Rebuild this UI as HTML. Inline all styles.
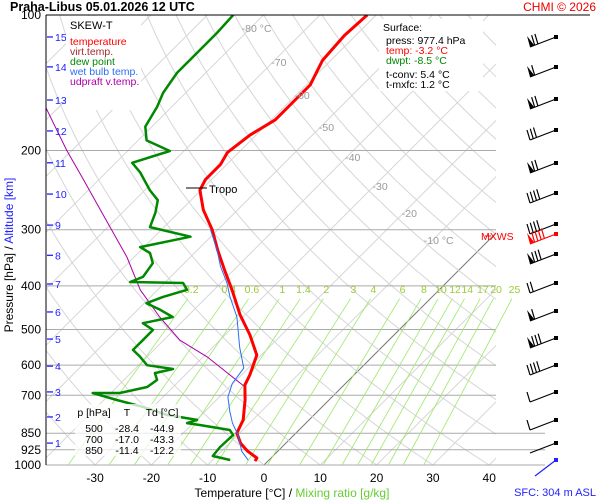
<!DOCTYPE html>
<html><head><meta charset="utf-8"><style>
html,body{margin:0;padding:0;background:#fff}
svg{display:block;font-family:"Liberation Sans",sans-serif}
</style></head><body>
<svg id="c" width="600" height="500" viewBox="0 0 600 500" xmlns="http://www.w3.org/2000/svg">
<defs><clipPath id="pc"><rect x="46" y="15" width="450" height="450"/></clipPath></defs>
<g id="grid" clip-path="url(#pc)"></g>
<g id="plines"></g>
<g id="mix"></g>
<g id="series" clip-path="url(#pc)"></g>
<g id="labels"></g>
<g id="barbs"></g>
<line x1="46" y1="15" x2="590" y2="15" stroke="#000" stroke-width="1"/>
<line x1="46" y1="15" x2="46" y2="465" stroke="#000" stroke-width="1"/>
<text x="10" y="11" font-size="12.5" font-weight="bold">Praha-Libus    05.01.2026 12 UTC</text>
<text x="596" y="11" font-size="12" fill="#e00" text-anchor="end">CHMI © 2026</text>
<rect x="66" y="16" width="75" height="94" fill="#fff"/>
<g font-size="10.5">
<text x="70" y="29" font-size="11">SKEW-T</text>
<text x="70" y="45" fill="#f00">temperature</text>
<text x="70" y="55" fill="#a52a2a">virt.temp.</text>
<text x="70" y="65" fill="#080">dew point</text>
<text x="70" y="75" fill="#2a6ef5">wet bulb temp.</text>
<text x="70" y="85" fill="#a0a">udpraft v.temp.</text>
</g>
<rect x="379" y="19" width="104" height="72" fill="#fff"/>
<g font-size="10.5">
<text x="383" y="31">Surface:</text>
<text x="386" y="44">press: 977.4 hPa</text>
<text x="386" y="54" fill="#f00">temp: -3.2 °C</text>
<text x="386" y="64" fill="#080">dwpt: -8.5 °C</text>
<text x="386" y="78">t-conv: 5.4 °C</text>
<text x="386" y="88">t-mxfc: 1.2 °C</text>
</g>
<rect id="tbox" x="75" y="404" width="106" height="52" fill="#fff" fill-opacity="0.75"/>
<g font-size="10.5" text-anchor="middle">
<text x="94" y="416">p [hPa]</text>
<text x="127" y="416">T</text>
<text x="162" y="416">Td [°C]</text>
<text x="94" y="432">500</text><text x="127" y="432">-28.4</text><text x="162" y="432">-44.9</text>
<text x="94" y="443">700</text><text x="127" y="443">-17.0</text><text x="162" y="443">-43.3</text>
<text x="94" y="454">850</text><text x="127" y="454">-11.4</text><text x="162" y="454">-12.2</text>
</g>
<text transform="translate(13,255) rotate(-90)" font-size="12" text-anchor="middle"><tspan fill="#000">Pressure [hPa]</tspan><tspan fill="#000"> / </tspan><tspan fill="#22f">Altitude [km]</tspan></text>
<text x="292" y="497" font-size="12" text-anchor="middle"><tspan fill="#000">Temperature [°C]  /  </tspan><tspan fill="#6c3">Mixing ratio [g/kg]</tspan></text>
<text x="596" y="496" font-size="11" fill="#22f" text-anchor="end">SFC: 304 m ASL</text>
<line x1="186" y1="188" x2="207" y2="188" stroke="#000"/>
<text x="209" y="193" font-size="11">Tropo</text>
<text x="481" y="240" font-size="10.5" fill="#f00">MXWS</text>
<line x1="485" y1="236" x2="491" y2="236" stroke="#f00"/>
</svg>
<script>
const pressures=[100,200,300,400,500,600,700,850,925,1000];
const tempTicks=[-30,-20,-10,0,10,20,30,40];
const isoLabels=[-80,-70,-60,-50,-40,-30,-20,-10];
const mixRatios=[0.2,0.4,0.6,1,1.4,2,3,4,6,8,10,12,14,17,20,25];
const altKm=[1,2,3,4,5,6,7,8,9,10,11,12,13,14,15];
const altP=[894,782,688,603,525,457,396,342,293,250,213,181,154.5,130.4,111.9];
const tempP=[980,965,930,895,849,794,717,664,631,570,514,464,408,369,333,300,271,245,232,215,202,185,171,154.5,143,126,111,100];
const tempT=[-2.3,-2.5,-5.5,-8.0,-10.5,-11.7,-14.9,-17.6,-18.5,-20.8,-25.6,-30.9,-36.8,-41.6,-46.4,-51.0,-56.1,-60.2,-61.1,-61.1,-62.0,-61.1,-59.3,-59.3,-59.3,-61.5,-62.0,-61.6];
const dewP=[974.7,955,912,858,836,815,807,794,774,743,717,692,692,671,647,625,612,600,575,555,528,501,484,469,452,437,423,408,394,392,382,356,338,328,311,296,275,258,245,224,213,200.6,190,177,160,149,134.5,119.6,109.6,100];
const dewT=[-6.9,-10.7,-11.0,-10.8,-12.3,-18.5,-21.1,-19.9,-26.1,-31.8,-37.7,-43.2,-38.4,-34.6,-34.1,-35.7,-33.2,-38.5,-41.2,-43.7,-43.7,-43.7,-46.7,-42.5,-46.0,-49.6,-47.8,-44.8,-46.7,-56.3,-54.9,-55.6,-57.9,-60.7,-53.6,-62.5,-64.1,-65.9,-69.1,-73.9,-77.1,-72.5,-78.5,-81.2,-82.6,-84.0,-85.1,-85.1,-85.1,-85.4];
const wetP=[975,932,858,808,762,706,659,609,548,501,469,423,394,362,333,300];
const wetT=[-3.7,-6.4,-9.9,-13.0,-15.5,-18.5,-20.1,-20.8,-25.2,-28.6,-31.1,-35.9,-38.9,-43.0,-46.5,-51.3];
const parcelP=[671,575,528,469,408,345,271,232,200,161];
const parcelT=[-17.2,-29.3,-37.1,-44.8,-53.1,-61.3,-74.4,-82.8,-90.9,-102.1];
const barbY=[37,67,99,130,163,193,224,254,283,311,338,365,392,420,443];
const barbPennants=[1,1,1,0,1,0,0,1,0,1,1,0,0,0,0];
const barbLines=[2,1,2,3,2,4,4,3,2,1,3,4,1,1,0];

const NS="http://www.w3.org/2000/svg";
function yP(p){return 15+450*Math.log10(p/100);}
function xT(t,p){return 264+5.63*t+(465-yP(p));}
function mk(tag,attrs,parent){const e=document.createElementNS(NS,tag);for(const k in attrs)e.setAttribute(k,attrs[k]);parent.appendChild(e);return e;}
const grid=document.getElementById('grid'),pl=document.getElementById('plines'),mix=document.getElementById('mix'),ser=document.getElementById('series'),lab=document.getElementById('labels'),bb=document.getElementById('barbs');

for(let t=-130;t<=40;t+=10){
  const l=mk('line',{x1:xT(t,1000),y1:465,x2:xT(t,100),y2:15,stroke:t===0?'#777':'#d6d6d6','stroke-width':1},grid);
  
  
}
for(let th=-40;th<=200;th+=10){
  let d='';
  for(let p=1050;p>=95;p-=10){const T=(th+273.15)*Math.pow(p/1000,0.286)-273.15;d+=(d?'L':'M')+xT(T,p).toFixed(1)+','+yP(p).toFixed(1);}
  const a=mk('path',{d:d,fill:'none',stroke:'#d6d6d6','stroke-width':1},grid);
  
  
}
pressures.forEach(p=>{
  const x2=p>=850?545:(p===100?590:496);
  if(p!==100){const l=mk('line',{x1:46,y1:yP(p),x2:x2,y2:yP(p),stroke:'#aaa','stroke-width':1},pl);
  
  }
  const t=mk('text',{x:41,y:yP(p)+4,'font-size':12,'text-anchor':'end'},lab);t.textContent=p;
  
  
});
tempTicks.forEach(v=>{
  const t=mk('text',{x:xT(v,1000),y:482,'font-size':12,'text-anchor':'middle'},lab);t.textContent=v;
  
  
});
const isoY=[28,62,95,127,157,186,213,240];
isoLabels.forEach((v,i)=>{
  const yy=isoY[i];
  const p=100*Math.pow(10,(yy-15)/450);
  const t=mk('text',{x:xT(v,p)+6,y:yy+4,'font-size':10.5,fill:'#999','text-anchor':'middle'},lab);
  t.textContent=(v===-80||v===-10)?v+' °C':v;
  
  
});
altKm.forEach((k,i)=>{
  const y=yP(altP[i]);
  const l=mk('line',{x1:47,y1:y,x2:53,y2:y,stroke:'#22f','stroke-width':1.3},lab);
  
  
  const t=mk('text',{x:55,y:y+4,'font-size':10.5,fill:'#22f'},lab);t.textContent=k;
  
  
});
function tdOf(w,p){const e=w*p/(622+w);const g=Math.log(e/6.112);return 243.5*g/(17.67-g);}
mixRatios.forEach(w=>{
  const pTop=417;
  const l=mk('line',{x1:xT(tdOf(w,1000),1000),y1:465,x2:xT(tdOf(w,pTop+10),pTop+10),y2:yP(pTop+10),stroke:'#9be86a','stroke-width':0.8},mix);
  
  
  const t=mk('text',{x:xT(tdOf(w,pTop),pTop),y:yP(pTop)-1,'font-size':10.5,fill:'#9acd32','text-anchor':'middle'},mix);t.textContent=w;
  
  
});
function path(P,T,color,w,name){
  let d='';P.forEach((p,i)=>{d+=(i?'L':'M')+xT(T[i],p).toFixed(1)+','+yP(p).toFixed(1);});
  const e=mk('path',{d:d,fill:'none',stroke:color,'stroke-width':w,'stroke-linejoin':'round'},ser);
  
  
}
path(parcelP,parcelT,'#a0a',1,'updraft-line');
path(dewP,dewT,'#080',2.5,'dew-point-line');
path(tempP,tempT,'#f00',3,'temperature-line');
path(wetP,wetT,'#2a6ef5',1,'wet-bulb-line');
function barb(y,pen,lines,color,name){
  const g=mk('g',{stroke:color,fill:color,'stroke-width':1.2},bb);
  
  
  const x0=556,x1=530,y1=y+10;
  mk('line',{x1:x0,y1:y,x2:x1,y2:y1},g);
  mk('rect',{x:x0-2,y:y-2,width:4,height:4,stroke:'none'},g);
  let pos=0;const dx=(x0-x1)/28,dy=(y-y1)/28;
  for(let i=0;i<pen;i++){const bx=x1+dx*pos,by=y1+dy*pos;mk('polygon',{points:bx+','+by+' '+(bx-3)+','+(by-11)+' '+(bx+4)+','+(by-2),stroke:'none'},g);pos+=5;}
  for(let i=0;i<lines;i++){const bx=x1+dx*pos,by=y1+dy*pos;mk('line',{x1:bx,y1:by,x2:bx-3,y2:by-10},g);pos+=3.5;}
}
barbY.forEach((y,i)=>barb(y,barbPennants[i],barbLines[i],'#000','wind-barb'));
barb(234,1,4,'#f00','max-wind-barb');
const sl=mk('line',{x1:556,y1:460,x2:535,y2:476,stroke:'#22f','stroke-width':1.2},bb);


mk('rect',{x:554,y:458,width:4,height:4,fill:'#22f'},bb);
</script>
</body></html>
